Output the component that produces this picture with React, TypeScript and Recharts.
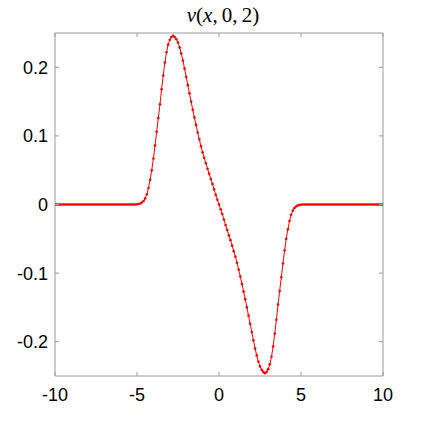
import React from 'react';
import { LineChart, Line, XAxis, YAxis } from 'recharts';

const xStart = -10;
const xStep = 0.1;

const vValues: number[] = [
  0, 0, 0, 0, 0, 0, 0, 0, 0, 0,
  0, 0, 0, 0, 0, 0, 0, 0, 0, 0,
  0, 0, 0, 0, 0, 0, 0, 0, 0, 0,
  0, 0, 0, 0, 0, 0, 0, 0, 0, 0,
  0, 0, 0, 0, 0, 0, 0, 0, 0, 0,
  0.0003, 0.0007, 0.0015, 0.003, 0.005, 0.009, 0.015, 0.024, 0.036, 0.05,
  0.067, 0.086, 0.106, 0.126, 0.146, 0.168, 0.188, 0.207, 0.222, 0.233,
  0.24, 0.244, 0.246, 0.244, 0.241, 0.236, 0.229, 0.22, 0.21, 0.198,
  0.186, 0.174, 0.162, 0.15, 0.138, 0.127, 0.116, 0.105, 0.095, 0.085,
  0.076, 0.068, 0.06, 0.052, 0.045, 0.037, 0.03, 0.022, 0.014, 0.007,
  0, -0.007, -0.014, -0.022, -0.03, -0.037, -0.045, -0.052, -0.06, -0.068,
  -0.076, -0.085, -0.095, -0.105, -0.116, -0.127, -0.138, -0.15, -0.162, -0.174,
  -0.186, -0.198, -0.21, -0.22, -0.229, -0.236, -0.241, -0.244, -0.246, -0.244,
  -0.24, -0.233, -0.222, -0.207, -0.188, -0.168, -0.146, -0.126, -0.106, -0.086,
  -0.067, -0.05, -0.036, -0.024, -0.015, -0.009, -0.005, -0.003, -0.0015, -0.0007,
  -0.0003, 0, 0, 0, 0, 0, 0, 0, 0, 0,
  0, 0, 0, 0, 0, 0, 0, 0, 0, 0,
  0, 0, 0, 0, 0, 0, 0, 0, 0, 0,
  0, 0, 0, 0, 0, 0, 0, 0, 0, 0,
  0, 0, 0, 0, 0, 0, 0, 0, 0, 0,
  0,
];

const xTicks = [-10, -5, 0, 5, 10];
const yTicks = [-0.2, -0.1, 0, 0.1, 0.2];

const data = vValues.map((v, i) => ({ x: Math.round((xStart + i * xStep) * 10) / 10, v }));

const AXIS = '#9a9a9a';
const FONT = '"Liberation Sans", Arial, Helvetica, sans-serif';
const TICK_LEN = 4;

const BottomTick = (props: any) => {
  const { x, y, payload } = props;
  return (
    <g>
      <line x1={x} x2={x} y1={y} y2={y - TICK_LEN} stroke={AXIS} strokeWidth={1} />
      <text x={x} y={y + 24.5} textAnchor="middle" fontFamily={FONT} fontSize={18} fill="#000">
        {String(payload.value)}
      </text>
    </g>
  );
};

const TopTick = (props: any) => {
  const { x, y } = props;
  return <line x1={x} x2={x} y1={y} y2={y + TICK_LEN} stroke={AXIS} strokeWidth={1} />;
};

const LeftTick = (props: any) => {
  const { x, y, payload } = props;
  return (
    <g>
      <line x1={x} x2={x + TICK_LEN} y1={y} y2={y} stroke={AXIS} strokeWidth={1} />
      <text x={x - 7} y={y + 6.5} textAnchor="end" fontFamily={FONT} fontSize={18} fill="#000">
        {String(payload.value)}
      </text>
    </g>
  );
};

const RightTick = (props: any) => {
  const { x, y } = props;
  return <line x1={x} x2={x - TICK_LEN} y1={y} y2={y} stroke={AXIS} strokeWidth={1} />;
};

export default function App() {
  return (
    <div style={{ position: 'absolute', left: 0, top: 0, width: 423, height: 423, background: '#fff' }}>
      <div
        style={{
          position: 'absolute',
          left: 0,
          top: 3,
          width: 446,
          textAlign: 'center',
          fontFamily: '"Liberation Serif", "Times New Roman", serif',
          fontSize: 21,
          lineHeight: '24px',
          color: '#000',
          whiteSpace: 'nowrap',
        }}
      >
        <i>v</i>(<i>x</i>,&#8201;0,&#8201;2)
      </div>
      <LineChart
        width={423}
        height={423}
        data={data}
        margin={{ top: 23, right: 30, bottom: 17, left: 5 }}
      >
        <XAxis
          xAxisId="bottom"
          dataKey="x"
          type="number"
          domain={[-10, 10]}
          ticks={xTicks}
          orientation="bottom"
          height={30}
          tickSize={0}
          tickMargin={0}
          tickLine={false}
          axisLine={{ stroke: AXIS, strokeWidth: 1 }}
          tick={<BottomTick />}
          interval={0}
          allowDataOverflow
        />
        <XAxis
          xAxisId="top"
          dataKey="x"
          type="number"
          domain={[-10, 10]}
          ticks={xTicks}
          orientation="top"
          height={10}
          tickSize={0}
          tickMargin={0}
          tickLine={false}
          axisLine={{ stroke: AXIS, strokeWidth: 1 }}
          tick={<TopTick />}
          interval={0}
          allowDataOverflow
        />
        <YAxis
          yAxisId="left"
          type="number"
          domain={[-0.25, 0.25]}
          ticks={yTicks}
          orientation="left"
          width={50}
          tickSize={0}
          tickMargin={0}
          tickLine={false}
          axisLine={{ stroke: AXIS, strokeWidth: 1 }}
          tick={<LeftTick />}
          interval={0}
          allowDataOverflow
        />
        <YAxis
          yAxisId="right"
          type="number"
          domain={[-0.25, 0.25]}
          ticks={yTicks}
          orientation="right"
          width={10}
          tickSize={0}
          tickMargin={0}
          tickLine={false}
          axisLine={{ stroke: AXIS, strokeWidth: 1 }}
          tick={<RightTick />}
          interval={0}
          allowDataOverflow
        />
        <Line
          xAxisId="bottom"
          yAxisId="left"
          type="linear"
          dataKey="v"
          stroke="#ff0000"
          strokeWidth={1}
          dot={{ r: 1.3, fill: '#ff0000', stroke: 'none', strokeWidth: 0 }}
          activeDot={false}
          isAnimationActive={false}
        />
      </LineChart>
    </div>
  );
}
